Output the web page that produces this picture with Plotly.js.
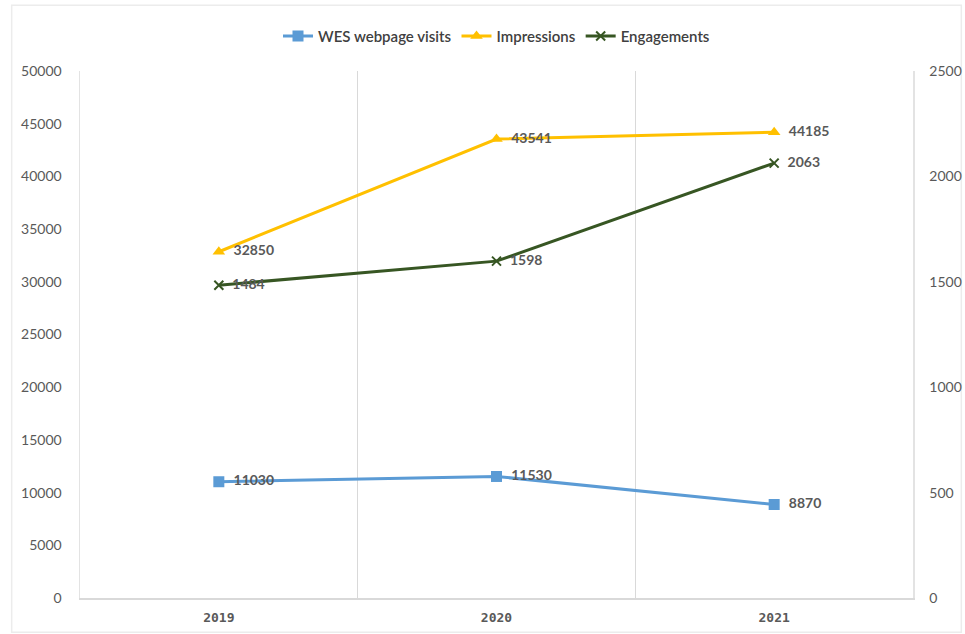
<!DOCTYPE html>
<html>
<head>
<meta charset="utf-8">
<script src="https://cdn.plot.ly/plotly-3.0.1.min.js"></script>
<style>html,body{margin:0;padding:0;background:#fff;}#chart{width:965px;height:634px;}</style>
</head>
<body>
<div id="chart"></div>
<script>
const years = ["2019", "2020", "2021"];
const webVisits = [11030, 11530, 8870];
const impressions = [32850, 43541, 44185];
const engagements = [1484, 1598, 2063];
const leftTicks = [0, 5000, 10000, 15000, 20000, 25000, 30000, 35000, 40000, 45000, 50000];
const rightTicks = [0, 500, 1000, 1500, 2000, 2500];

const labelFont = {family: "Lato, Carlito, sans-serif", size: 14, color: "#595959", weight: 700};

const traces = [
  {
    x: years, y: webVisits, name: "WES webpage visits", type: "scatter",
    mode: "lines+markers+text", text: webVisits.map(String), texttemplate: "  %{text}", textposition: "middle right",
    textfont: labelFont,
    line: {color: "#5B9BD5", width: 3},
    marker: {symbol: "square", size: 11, color: "#5B9BD5"},
    yaxis: "y"
  },
  {
    x: years, y: impressions, name: "Impressions", type: "scatter",
    mode: "lines+markers+text", text: impressions.map(String), texttemplate: "  %{text}", textposition: "middle right",
    textfont: labelFont,
    line: {color: "#FFC000", width: 3},
    marker: {symbol: "triangle-up", size: 11, color: "#FFC000"},
    yaxis: "y"
  },
  {
    x: years, y: engagements, name: "Engagements", type: "scatter",
    mode: "lines+markers+text", text: engagements.map(String), texttemplate: "  %{text}", textposition: "middle right",
    textfont: labelFont,
    line: {color: "#375623", width: 3},
    marker: {symbol: "x-thin", size: 9, color: "#375623", line: {color: "#375623", width: 2}},
    yaxis: "y2"
  }
];

const layout = {
  width: 965, height: 634,
  margin: {l: 80, r: 52, t: 71, b: 36},
  paper_bgcolor: "#ffffff", plot_bgcolor: "#ffffff",
  showlegend: true,
  hovermode: false,
  legend: {
    orientation: "h", x: 0.5, xanchor: "center", y: 1.066, yanchor: "middle",
    font: {family: "Lato, Carlito, sans-serif", size: 15, color: "#404040", weight: 600},
    traceorder: "normal"
  },
  xaxis: {
    type: "category", tickson: "boundaries", range: [-0.5, 2.5],
    showgrid: true, gridcolor: "#d9d9d9", gridwidth: 1.5,
    showline: true, linecolor: "#d9d9d9", linewidth: 1.5, mirror: false,
    ticks: "", zeroline: false, ticklabelstandoff: 7,
    tickfont: {family: "DejaVu Sans Mono, monospace", size: 13, color: "#595959", weight: 700},
    fixedrange: true
  },
  yaxis: {
    range: [0, 50000], tickvals: leftTicks, ticktext: leftTicks.map(String),
    showgrid: false, zeroline: false, showline: true, linecolor: "#e3e3e3", linewidth: 1.5,
    ticks: "", ticklen: 0, tickfont: {family: "Lato, Carlito, sans-serif", size: 14, color: "#595959"},
    ticklabelstandoff: 14
  },
  yaxis2: {
    range: [0, 2500], tickvals: rightTicks, ticktext: rightTicks.map(String),
    overlaying: "y", side: "right",
    showgrid: false, zeroline: false, showline: true, linecolor: "#e3e3e3", linewidth: 1.5,
    ticks: "", tickfont: {family: "Lato, Carlito, sans-serif", size: 14, color: "#595959"},
    ticklabelstandoff: 12
  },
  shapes: [
    {type: "rect", xref: "paper", yref: "paper", x0: -0.082, x1: 1.058, y0: -0.065, y1: 1.125,
     line: {color: "#ececec", width: 1.5}, fillcolor: "rgba(0,0,0,0)", layer: "below"}
  ]
};

Plotly.newPlot("chart", traces, layout, {displayModeBar: false, staticPlot: true});
</script>
</body>
</html>
